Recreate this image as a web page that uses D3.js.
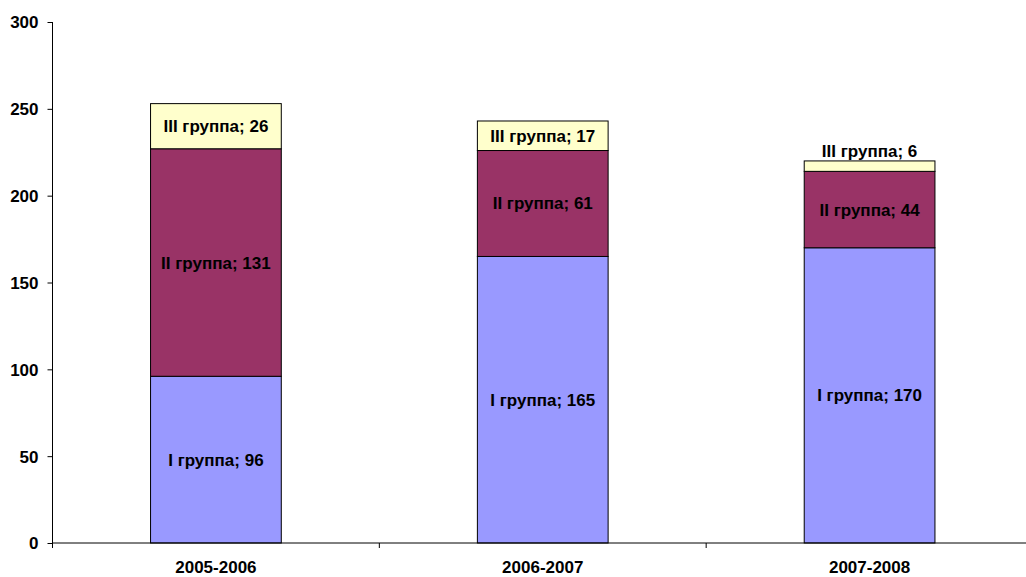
<!DOCTYPE html>
<html>
<head>
<meta charset="utf-8">
<script src="https://cdn.jsdelivr.net/npm/d3@7"></script>
<style>
  body { margin: 0; background: #fff; }
  text { font-family: "Liberation Sans", Arial, sans-serif; font-weight: bold; fill: #000; }
</style>
</head>
<body>
<div id="chart"></div>
<script>
const years = ['2005-2006', '2006-2007', '2007-2008'];
const groups = ['I группа', 'II группа', 'III группа'];
const group1 = [96, 165, 170];
const group2 = [131, 61, 44];
const group3 = [26, 17, 6];
const yTicks = [0, 50, 100, 150, 200, 250, 300];
const colors = ['#9999ff', '#993366', '#ffffcc'];

const width = 1026, height = 577;
const margin = {top: 22, right: -7, bottom: 34, left: 52.5};
const h = height - margin.top - margin.bottom;

const svg = d3.select('#chart').append('svg')
  .attr('width', width)
  .attr('height', height);

let rows = years.map((y, i) => ({year: y, g0: group1[i], g1: group2[i], g2: group3[i]}));
let stacked = d3.stack().keys(['g0', 'g1', 'g2'])(rows);

let x = d3.scaleBand().domain(years).range([margin.left, width - margin.right]).paddingInner(0.6).paddingOuter(0.3),
    y = d3.scaleLinear().domain([0, 300]).range([margin.top + h, margin.top]);

// bars
stacked.forEach((layer, k) => {
  svg.append('g').selectAll('rect')
    .data(layer)
    .enter()
      .append('rect')
      .attr('x', d => x(d.data.year))
      .attr('y', d => y(d[1]))
      .attr('width', x.bandwidth())
      .attr('height', d => y(d[0]) - y(d[1]))
      .style('fill', colors[k])
      .style('stroke', '#000')
      .style('stroke-width', 1);
});

// labels (small segments get their label above the bar)
stacked.forEach((layer, k) => {
  svg.append('g').selectAll('text')
    .data(layer)
    .enter()
      .append('text')
      .attr('x', d => x(d.data.year) + x.bandwidth() / 2)
      .attr('y', d => {
        let top = y(d[1]), bot = y(d[0]);
        if (bot - top < 18) return top - 4;
        return (top + bot) / 2 + 6;
      })
      .attr('text-anchor', 'middle')
      .style('font-size', '17px')
      .text(d => groups[k] + '; ' + (d[1] - d[0]));
});

// y axis
let yAxis = d3.axisLeft(y).tickValues(yTicks).tickSize(5).tickPadding(9).tickFormat(d3.format('d'));
let ya = svg.append('g')
  .attr('transform', 'translate(' + margin.left + ',0)')
  .call(yAxis);
ya.select('.domain').attr('d', 'M0,' + y(0) + 'V' + y(300));
ya.selectAll('text').style('font-size', '17px').attr('dy', '0.35em');

// x axis
let edges = years.map(yr => x(yr) - x.step() * x.paddingInner() / 2);
let xa = svg.append('g')
  .attr('transform', 'translate(0,' + y(0) + ')');
xa.append('line')
  .attr('x1', margin.left).attr('x2', width)
  .attr('y1', 0).attr('y2', 0)
  .style('stroke', '#000');
xa.selectAll('.tk')
  .data(edges)
  .enter()
    .append('line')
    .attr('x1', d => d).attr('x2', d => d)
    .attr('y1', 0).attr('y2', 5)
    .style('stroke', '#000');
xa.selectAll('.lbl')
  .data(years)
  .enter()
    .append('text')
    .attr('x', d => x(d) + x.bandwidth() / 2)
    .attr('y', 30)
    .attr('text-anchor', 'middle')
    .style('font-size', '17px')
    .text(d => d);
</script>
</body>
</html>
